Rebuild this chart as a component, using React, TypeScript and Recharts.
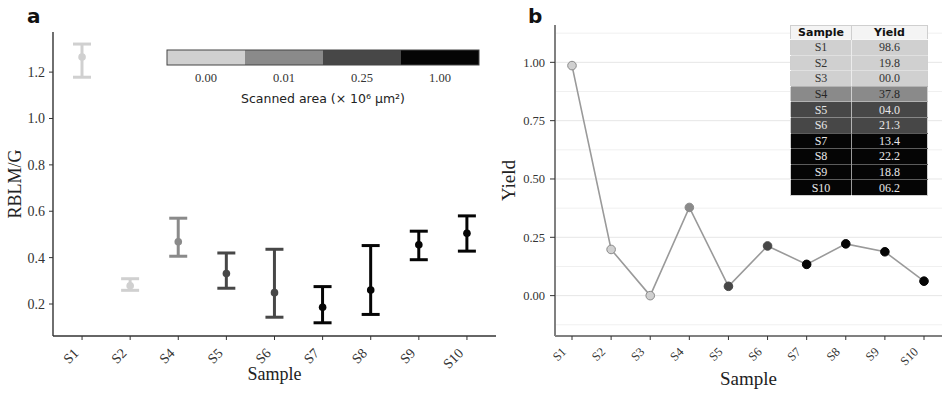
import React from 'react'
import {
  ComposedChart, LineChart, Bar, Line, XAxis, YAxis, ReferenceLine,
} from 'recharts'

// scanned-area groups shared by both panels
const areaLabels = ['0.00', '0.01', '0.25', '1.00']
const areaColors = ['#d0d0d0', '#8a8a8a', '#474747', '#050505']
const areaText = ['#333333', '#262626', '#e8e8e8', '#e8e8e8']

// panel a: RBLM/G per sample (mean with lower/upper bounds)
const samplesA = ['S1', 'S2', 'S4', 'S5', 'S6', 'S7', 'S8', 'S9', 'S10']
const rblmMean = [1.265, 0.279, 0.468, 0.331, 0.249, 0.186, 0.260, 0.455, 0.505]
const rblmLow = [1.178, 0.259, 0.406, 0.268, 0.143, 0.119, 0.155, 0.391, 0.428]
const rblmHigh = [1.321, 0.309, 0.570, 0.420, 0.436, 0.275, 0.452, 0.514, 0.580]
const groupA = [0, 0, 1, 2, 2, 3, 3, 3, 3]
const ticksA = [0.2, 0.4, 0.6, 0.8, 1.0, 1.2]

// panel b: yield (%) per sample
const samplesB = ['S1', 'S2', 'S3', 'S4', 'S5', 'S6', 'S7', 'S8', 'S9', 'S10']
const yieldPct = [98.6, 19.8, 0.0, 37.8, 4.0, 21.3, 13.4, 22.2, 18.8, 6.2]
const groupB = [0, 0, 0, 1, 2, 2, 3, 3, 3, 3]
const ticksB = [0, 0.25, 0.5, 0.75, 1.0]
const gridMinorB = [-0.125, 0.125, 0.375, 0.625, 0.875, 1.125]

const dataA = samplesA.map((s, i) => ({
  sample: s,
  mean: rblmMean[i],
  range: [rblmLow[i], rblmHigh[i]],
  group: groupA[i],
}))

const dataB = samplesB.map((s, i) => ({
  sample: s,
  yield: yieldPct[i] / 100,
  pct: yieldPct[i],
  group: groupB[i],
}))

const SERIF = '"Liberation Serif", "Times New Roman", serif'
const SANS = '"DejaVu Sans", sans-serif'

const makeSlantTick = (size: number, dx: number, dy: number) => (props: any) => {
  const { x, y, payload } = props
  return (
    <g transform={`translate(${x + dx},${y + dy})`}>
      <text x={0} y={0} transform="rotate(-45)" textAnchor="end"
        style={{ fontFamily: SERIF, fontSize: size }} fill="#333">
        {payload.value}
      </text>
    </g>
  )
}

const makeValueTick = (size: number, digits: number) => (props: any) => {
  const { x, y, payload } = props
  return (
    <text x={x} y={y} dy="0.35em" textAnchor="end"
      style={{ fontFamily: SERIF, fontSize: size }} fill="#333">
      {Number(payload.value).toFixed(digits)}
    </text>
  )
}

// I-beam drawn from the bar's range [low, high]
const ErrorShape = (props: any) => {
  const { x, y, width, height, payload } = props
  const c = areaColors[payload.group]
  const cx = x + width / 2
  return (
    <g stroke={c} strokeWidth={3} fill="none">
      <line x1={cx} y1={y} x2={cx} y2={y + height} />
      <line x1={x} y1={y} x2={x + width} y2={y} />
      <line x1={x} y1={y + height} x2={x + width} y2={y + height} />
    </g>
  )
}

const meanDot = (props: any) => {
  const { cx, cy, payload, index } = props
  return <circle key={`m${index}`} cx={cx} cy={cy} r={3.8} fill={areaColors[payload.group]} />
}

const yieldDot = (props: any) => {
  const { cx, cy, payload, index } = props
  const g = payload.group
  return (
    <circle key={`y${index}`} cx={cx} cy={cy} r={4.3}
      fill={areaColors[g]} stroke={g === 0 ? '#8a8a8a' : areaColors[g]} strokeWidth={1} />
  )
}

function PanelA() {
  return (
    <ComposedChart width={500} height={412} data={dataA}
      margin={{ top: 32, right: 4, left: 8, bottom: 32 }}>
      <XAxis dataKey="sample" scale="band" interval={0} padding={{ left: 5, right: 5 }}
        height={44} tickSize={4} tickMargin={2}
        axisLine={{ stroke: '#333', strokeWidth: 1.4 }} tickLine={{ stroke: '#333' }}
        tick={makeSlantTick(14, -2.7, 12)}
        label={{ value: 'Sample', position: 'insideBottom', offset: 0,
          style: { fontFamily: SERIF, fontSize: 18, fill: '#222' } }} />
      <YAxis type="number" domain={[0.062, 1.373]} ticks={ticksA} allowDataOverflow
        width={45} tickSize={4} tickMargin={4}
        tick={makeValueTick(14, 1)}
        axisLine={{ stroke: '#333', strokeWidth: 1.4 }} tickLine={{ stroke: '#333' }}
        label={{ value: 'RBLM/G', angle: -90, position: 'insideLeft', offset: 6.5,
          style: { textAnchor: 'middle', fontFamily: SERIF, fontSize: 18, fill: '#222' } }} />
      <Bar dataKey="range" barSize={18} shape={ErrorShape} isAnimationActive={false} />
      <Line dataKey="mean" stroke="none" dot={meanDot} activeDot={false} isAnimationActive={false} />
    </ComposedChart>
  )
}

function PanelB() {
  return (
    <LineChart width={468} height={412} data={dataB}
      margin={{ top: 25, right: 6, left: 8, bottom: 27 }}>
      {gridMinorB.map((v) => (
        <ReferenceLine key={`n${v}`} y={v} stroke="#f0f0f0" strokeWidth={1} />
      ))}
      {ticksB.map((v) => (
        <ReferenceLine key={`j${v}`} y={v} stroke="#e6e6e6" strokeWidth={1} />
      ))}
      <XAxis dataKey="sample" scale="point" interval={0} padding={{ left: 17, right: 18 }}
        height={49} tickSize={4} tickMargin={2}
        axisLine={{ stroke: '#808080', strokeWidth: 2 }} tickLine={{ stroke: '#333' }}
        tick={makeSlantTick(12.5, -5, 10.5)}
        label={{ value: 'Sample', position: 'insideBottom', offset: 0,
          style: { fontFamily: SERIF, fontSize: 19, fill: '#222' } }} />
      <YAxis type="number" domain={[-0.173, 1.16]} ticks={ticksB} allowDataOverflow
        width={67} tickSize={5} tickMargin={5}
        tick={makeValueTick(12.5, 2)}
        axisLine={{ stroke: '#808080', strokeWidth: 2 }} tickLine={{ stroke: '#333' }}
        label={{ value: 'Yield', angle: -90, position: 'insideLeft', offset: 20.5,
          style: { textAnchor: 'middle', fontFamily: SERIF, fontSize: 19, fill: '#222' } }} />
      <Line dataKey="yield" stroke="#9a9a9a" strokeWidth={1.6} dot={yieldDot}
        activeDot={false} isAnimationActive={false} />
    </LineChart>
  )
}

function AreaScale() {
  const segW = 78
  return (
    <svg width={948} height={412} style={{ position: 'absolute', left: 0, top: 0, pointerEvents: 'none' }}>
      <text x={27} y={23} fontFamily={SANS} fontWeight="bold" fontSize={20} fill="#111">a</text>
      <text x={528} y={23} fontFamily={SANS} fontWeight="bold" fontSize={20} fill="#111">b</text>
      {areaColors.map((c, i) => (
        <rect key={c} x={167 + i * segW} y={50} width={segW} height={15} fill={c} />
      ))}
      <rect x={167} y={50} width={segW * 4} height={15} fill="none" stroke="#444" strokeWidth={1} />
      {areaLabels.map((l, i) => (
        <text key={l} x={167 + segW / 2 + i * segW} y={82} textAnchor="middle"
          fontFamily={SERIF} fontSize={12.5} fill="#333">{l}</text>
      ))}
      <text x={323} y={103} textAnchor="middle" fontFamily={SANS} fontSize={12.5} fill="#222">
        Scanned area (× 10⁶ µm²)
      </text>
    </svg>
  )
}

function YieldTable() {
  const cell: React.CSSProperties = { padding: 0, textAlign: 'center', lineHeight: 1 }
  return (
    <table style={{ position: 'absolute', left: 790, top: 25, borderCollapse: 'collapse',
      border: '1px solid #cfcfcf', fontFamily: SERIF, fontSize: 12 }}>
      <thead>
        <tr style={{ height: 14, background: '#f4f4f4', color: '#111' }}>
          <th style={{ ...cell, width: 60, fontFamily: SANS, fontSize: 11, borderRight: '1px solid #cfcfcf' }}>Sample</th>
          <th style={{ ...cell, width: 75, fontFamily: SANS, fontSize: 11 }}>Yield</th>
        </tr>
      </thead>
      <tbody>
        {samplesB.map((s, i) => (
          <tr key={s} style={{ height: 15.6, background: areaColors[groupB[i]], color: areaText[groupB[i]],
            borderTop: '1px solid rgba(255,255,255,0.35)' }}>
            <td style={{ ...cell, borderRight: '1px solid rgba(255,255,255,0.6)' }}>{s}</td>
            <td style={cell}>{yieldPct[i].toFixed(1).padStart(4, '0')}</td>
          </tr>
        ))}
      </tbody>
    </table>
  )
}

export default function App() {
  return (
    <div style={{ position: 'absolute', left: 0, top: 0, width: 948, height: 412,
      background: '#fff', overflow: 'hidden' }}>
      <div style={{ position: 'absolute', left: 0, top: 0 }}><PanelA /></div>
      <div style={{ position: 'absolute', left: 480, top: 0 }}><PanelB /></div>
      <AreaScale />
      <YieldTable />
    </div>
  )
}
